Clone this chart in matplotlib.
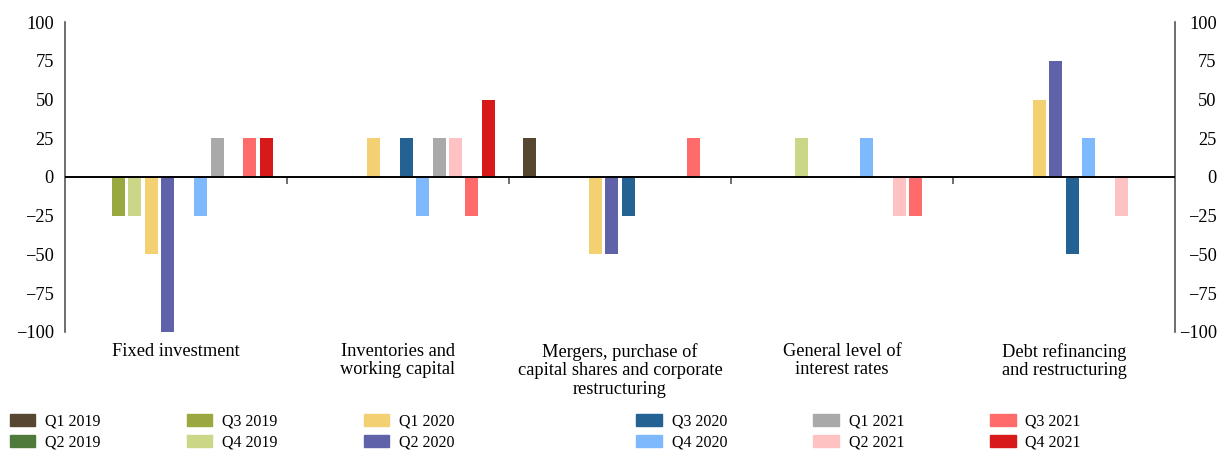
import matplotlib.pyplot as plt
import matplotlib.patches as mpatches
import numpy as np

plt.rcParams['font.family'] = ['Liberation Serif', 'DejaVu Serif']

categories = ["Fixed investment", "Inventories and\nworking capital",
              "Mergers, purchase of\ncapital shares and corporate\nrestructuring",
              "General level of\ninterest rates", "Debt refinancing\nand restructuring"]

quarters = ["Q1 2019", "Q2 2019", "Q3 2019", "Q4 2019",
            "Q1 2020", "Q2 2020", "Q3 2020", "Q4 2020",
            "Q1 2021", "Q2 2021", "Q3 2021", "Q4 2021"]

colors = ["#574630", "#507a3b", "#9aa83f", "#cbd687",
          "#f3d072", "#5f62a8", "#236293", "#7db9fc",
          "#a9a9aa", "#ffc2c2", "#ff6b6b", "#d8191a"]

# one list per quarter, values for the five categories
q1_2019 = [0, 0, 25, 0, 0]
q2_2019 = [0, 0, 0, 0, 0]
q3_2019 = [-25, 0, 0, 0, 0]
q4_2019 = [-25, 0, 0, 25, 0]
q1_2020 = [-50, 25, -50, 0, 50]
q2_2020 = [-100, 0, -50, 0, 75]
q3_2020 = [0, 25, -25, 0, -50]
q4_2020 = [-25, -25, 0, 25, 25]
q1_2021 = [25, 25, 0, 0, 0]
q2_2021 = [0, 25, 0, -25, -25]
q3_2021 = [25, -25, 25, -25, 0]
q4_2021 = [25, 50, 0, 0, 0]

series = [q1_2019, q2_2019, q3_2019, q4_2019, q1_2020, q2_2020,
          q3_2020, q4_2020, q1_2021, q2_2021, q3_2021, q4_2021]

fig = plt.figure(figsize=(12.24, 4.51), dpi=100)
ax = fig.add_axes([0.0531, 0.2639, 0.9069, 0.6873])

x = np.arange(len(categories))
step = 0.0739
width = 0.0586
for j, vals in enumerate(series):
    ax.bar(x + (j - 5.5) * step, vals, width, color=colors[j], label=quarters[j])

ax.axhline(0, color="black", lw=1.4, zorder=3)
ax.vlines([0.5, 1.5, 2.5, 3.5], -4.5, 0, color="#555555", lw=1.2)

ticks = [100, 75, 50, 25, 0, -25, -50, -75, -100]
ax.set_xlim(-0.5, 4.5)
ax.set_ylim(-100, 100)
ax.set_yticks(ticks)
ax.set_xticks(x)
ax.set_xticklabels(categories, fontsize=13.2, va="top", linespacing=1.1)
ax.tick_params(axis="x", length=0, pad=8)
ax.tick_params(axis="y", length=0, pad=8, labelsize=13.2)

for s in ["top", "bottom"]:
    ax.spines[s].set_visible(False)
for s in ["left", "right"]:
    ax.spines[s].set_color("#555555")
    ax.spines[s].set_linewidth(1.2)

ax2 = ax.twinx()
ax2.set_ylim(-100, 100)
ax2.set_yticks(ticks)
ax2.tick_params(axis="y", length=0, pad=30, labelsize=13.2)
for lab in ax2.get_yticklabels():
    lab.set_horizontalalignment("right")
for s in ["top", "bottom", "left", "right"]:
    ax2.spines[s].set_visible(False)

handles = [mpatches.Patch(color=c, label=q) for c, q in zip(colors, quarters)]
leg_kw = dict(ncol=3, frameon=False, fontsize=11.5, handlelength=1.6,
              handleheight=0.75, handletextpad=0.6, columnspacing=5.4,
              labelspacing=0.3, borderaxespad=0, borderpad=0)
fig.legend(handles=handles[:6], loc="upper left", bbox_to_anchor=(0.008, 0.083), **leg_kw)
fig.legend(handles=handles[6:], loc="upper left", bbox_to_anchor=(0.52, 0.083), **leg_kw)

fig.savefig("out.png", dpi=100)
